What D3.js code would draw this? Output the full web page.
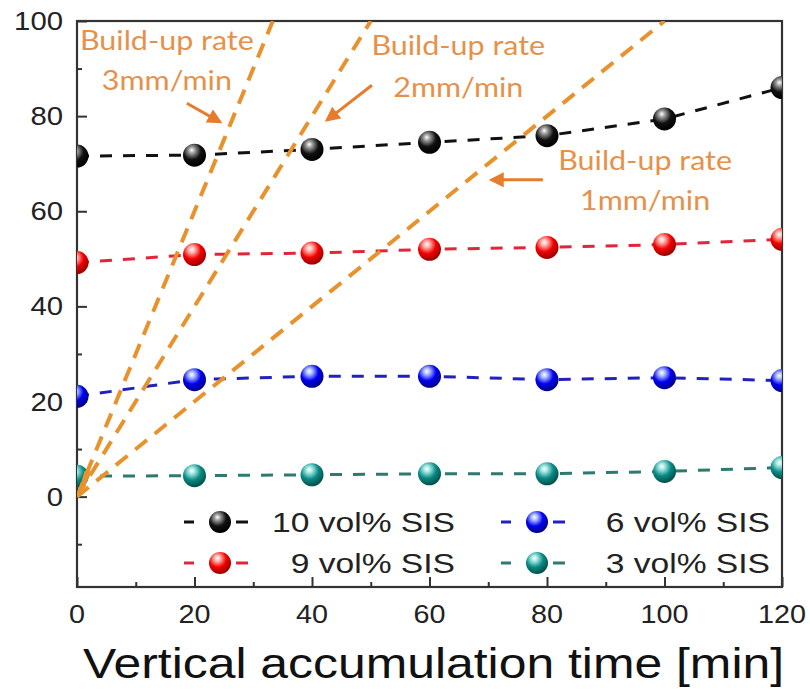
<!DOCTYPE html>
<html><head><meta charset="utf-8">
<script src="https://cdn.jsdelivr.net/npm/d3@7"></script>
<style>body{margin:0;background:#fff}</style>
</head><body>
<script>
// ---- data ----
const times = [0, 20, 40, 60, 80, 100, 120];
const sis10 = [71.6, 71.8, 73.0, 74.5, 75.9, 79.4, 86.0];
const sis9  = [49.2, 50.9, 51.2, 52.0, 52.4, 53.0, 54.1];
const sis6  = [21.1, 24.6, 25.3, 25.3, 24.6, 25.0, 24.4];
const sis3  = [4.3, 4.4, 4.6, 4.8, 4.8, 5.3, 6.1];
const seriesNames = ["10 vol% SIS", "9 vol% SIS", "6 vol% SIS", "3 vol% SIS"];
const xTicks = [0, 20, 40, 60, 80, 100, 120];
const yTicks = [0, 20, 40, 60, 80, 100];
const rates = [3, 2, 1];               // build-up rates, mm/min
const rateLabels = ["3mm/min", "2mm/min", "1mm/min"];
const rateTitle = "Build-up rate";
const xTitle = "Vertical accumulation time [min]";

// ---- layout ----
const W = 810, H = 690;
const svg = d3.select("body").append("svg").attr("width", W).attr("height", H)
  .style("font-family", "'Liberation Sans', Arial, sans-serif");
const x = d3.scaleLinear().domain([0, 120]).range([77, 782]);
const y = d3.scaleLinear().domain([-19, 100]).range([587, 21]);
const SX = 1.15; // horizontal stretch of the original image

const defs = svg.append("defs");
defs.append("clipPath").attr("id", "plot").append("rect")
  .attr("x", x(0)).attr("y", y(100)).attr("width", x(120) - x(0)).attr("height", y(-19) - y(100));

const colors = {
  "10 vol% SIS": {base: "#111", hi: "#9a9a9a", dark: "#000", line: "#111"},
  "9 vol% SIS":  {base: "#f20000", hi: "#ffb0a8", dark: "#a00000", line: "#e0263a"},
  "6 vol% SIS":  {base: "#0000f0", hi: "#a8b8ff", dark: "#000090", line: "#2222bb"},
  "3 vol% SIS":  {base: "#0a8a84", hi: "#9fe6e0", dark: "#045450", line: "#2e7a70"}
};
seriesNames.forEach((n, i) => {
  const c = colors[n];
  const g = defs.append("radialGradient").attr("id", "g" + i)
    .attr("cx", "40%").attr("cy", "32%").attr("r", "65%").attr("fx", "38%").attr("fy", "28%");
  g.append("stop").attr("offset", "0%").attr("stop-color", "#ffffff");
  g.append("stop").attr("offset", "22%").attr("stop-color", c.hi);
  g.append("stop").attr("offset", "60%").attr("stop-color", c.base);
  g.append("stop").attr("offset", "100%").attr("stop-color", c.dark);
});
defs.append("marker").attr("id", "arrow").attr("viewBox", "0 0 10 10")
  .attr("refX", 8).attr("refY", 5).attr("markerWidth", 5).attr("markerHeight", 5)
  .attr("orient", "auto").attr("markerUnits", "strokeWidth")
  .append("path").attr("d", "M0,0 L10,5 L0,10 z").attr("fill", "#e67c2c");

const ORANGE = "#e8922e", TXT = "#e6914a";

// ---- axes ----
const axisColor = "#333";
const xAxis = svg.append("g").attr("transform", `translate(0,${y(-19)})`)
  .call(d3.axisBottom(x).tickValues(xTicks).tickSize(-10).tickPadding(0).tickFormat(""));
const xMinor = svg.append("g").attr("transform", `translate(0,${y(-19)})`)
  .call(d3.axisBottom(x).tickValues(d3.range(10, 120, 20)).tickSize(-5).tickFormat(""));
const yAxis = svg.append("g").attr("transform", `translate(${x(0)},0)`)
  .call(d3.axisLeft(y).tickValues(yTicks).tickSize(-10).tickFormat(""));
const yMinor = svg.append("g").attr("transform", `translate(${x(0)},0)`)
  .call(d3.axisLeft(y).tickValues(d3.range(-10, 100, 20)).tickSize(-5).tickFormat(""));
[xAxis, xMinor, yAxis, yMinor].forEach(a => {
  a.select(".domain").remove();
  a.selectAll("line").attr("stroke", axisColor).attr("stroke-width", 2);
});
// frame
svg.append("rect").attr("x", x(0)).attr("y", y(100)).attr("width", x(120) - x(0))
  .attr("height", y(-19) - y(100)).attr("fill", "none").attr("stroke", axisColor).attr("stroke-width", 2.2);

// tick labels
svg.append("g").selectAll("text").data(xTicks).join("text")
  .attr("transform", d => `translate(${x(d)},${y(-19) + 36}) scale(${SX},1)`)
  .attr("text-anchor", "middle").attr("font-size", 25).attr("fill", "#222").text(d => d);
svg.append("g").selectAll("text").data(yTicks).join("text")
  .attr("transform", d => `translate(${x(0) - 14},${y(d) + 9}) scale(${SX},1)`)
  .attr("text-anchor", "end").attr("font-size", 25.5).attr("fill", "#222").text(d => d);
svg.append("text").attr("transform", `translate(${x(0) + 6},678) scale(1.16,1)`)
  .attr("font-size", 43).attr("fill", "#111").text(xTitle);

// ---- series ----
const allSeries = [sis10, sis9, sis6, sis3];
const line = d3.line().x((d, i) => x(times[i])).y(d => y(d));
const gS = svg.append("g").attr("clip-path", "url(#plot)");
allSeries.forEach((vals, i) => {
  gS.append("path").attr("d", line(vals)).attr("fill", "none")
    .attr("stroke", colors[seriesNames[i]].line).attr("stroke-width", 3)
    .attr("stroke-dasharray", "12,11");
});
allSeries.forEach((vals, i) => {
  gS.append("g").selectAll("circle").data(vals).join("circle")
    .attr("cx", (d, j) => x(times[j])).attr("cy", d => y(d)).attr("r", 11.5)
    .attr("fill", `url(#g${i})`);
});

// ---- build-up rate lines ----
const gR = svg.append("g").attr("clip-path", "url(#plot)");
rates.forEach(r => {
  gR.append("line").attr("x1", x(0)).attr("y1", y(0)).attr("x2", x(100 / r)).attr("y2", y(100))
    .attr("stroke", ORANGE).attr("stroke-width", 4).attr("stroke-dasharray", "15,10");
});
// overlap blob at the origin
gR.append("path").attr("d", d3.line()([[x(0), y(0)], [x(2.2), y(5)], [x(1.2), y(5)]]))
  .attr("fill", ORANGE).attr("stroke", ORANGE).attr("stroke-width", 3);

// annotations (data coordinates)
const notes = [
  {cx: 15.3, y1: 93.9, y2: 85.5, a: [18.7, 82.7, 24.3, 78.8]},
  {cx: 64.9, y1: 92.8, y2: 84.0, a: [50.2, 86.5, 42.6, 79.2]},
  {cx: 96.7, y1: 68.7, y2: 60.3, a: [79.3, 66.6, 70.6, 66.6]}
];
notes.forEach((n, i) => {
  svg.append("text").attr("transform", `translate(${x(n.cx)},${y(n.y1)}) scale(${SX},1)`)
    .attr("text-anchor", "middle").attr("font-family", "Lato, 'Open Sans', sans-serif")
    .attr("font-size", 26.5).attr("fill", TXT).text(rateTitle);
  svg.append("text").attr("transform", `translate(${x(n.cx)},${y(n.y2)}) scale(${SX},1)`)
    .attr("text-anchor", "middle").attr("font-family", "Lato, 'Open Sans', sans-serif")
    .attr("font-size", 26.5).attr("fill", TXT).text(rateLabels[i]);
  svg.append("line").attr("x1", x(n.a[0])).attr("y1", y(n.a[1])).attr("x2", x(n.a[2])).attr("y2", y(n.a[3]))
    .attr("stroke", "#e67c2c").attr("stroke-width", 3).attr("marker-end", "url(#arrow)");
});

// ---- legend ----
const legPos = [
  {sx: 220, ty: 522, tx: 455}, {sx: 220, ty: 563, tx: 455},
  {sx: 537, ty: 522, tx: 770}, {sx: 537, ty: 563, tx: 770}
];
seriesNames.forEach((n, i) => {
  const p = legPos[i], c = colors[n];
  const g = svg.append("g");
  [[-36, -26], [16, 28]].forEach(s => {
    g.append("line").attr("x1", p.sx + s[0]).attr("x2", p.sx + s[1]).attr("y1", p.ty).attr("y2", p.ty)
      .attr("stroke", c.line).attr("stroke-width", 3);
  });
  g.append("circle").attr("cx", p.sx).attr("cy", p.ty).attr("r", 11).attr("fill", `url(#g${i})`);
  g.append("text").attr("transform", `translate(${p.tx},${p.ty + 10}) scale(1.2,1)`)
    .attr("text-anchor", "end").attr("font-size", 28).attr("fill", "#222").text(n);
});
</script>
</body></html>
